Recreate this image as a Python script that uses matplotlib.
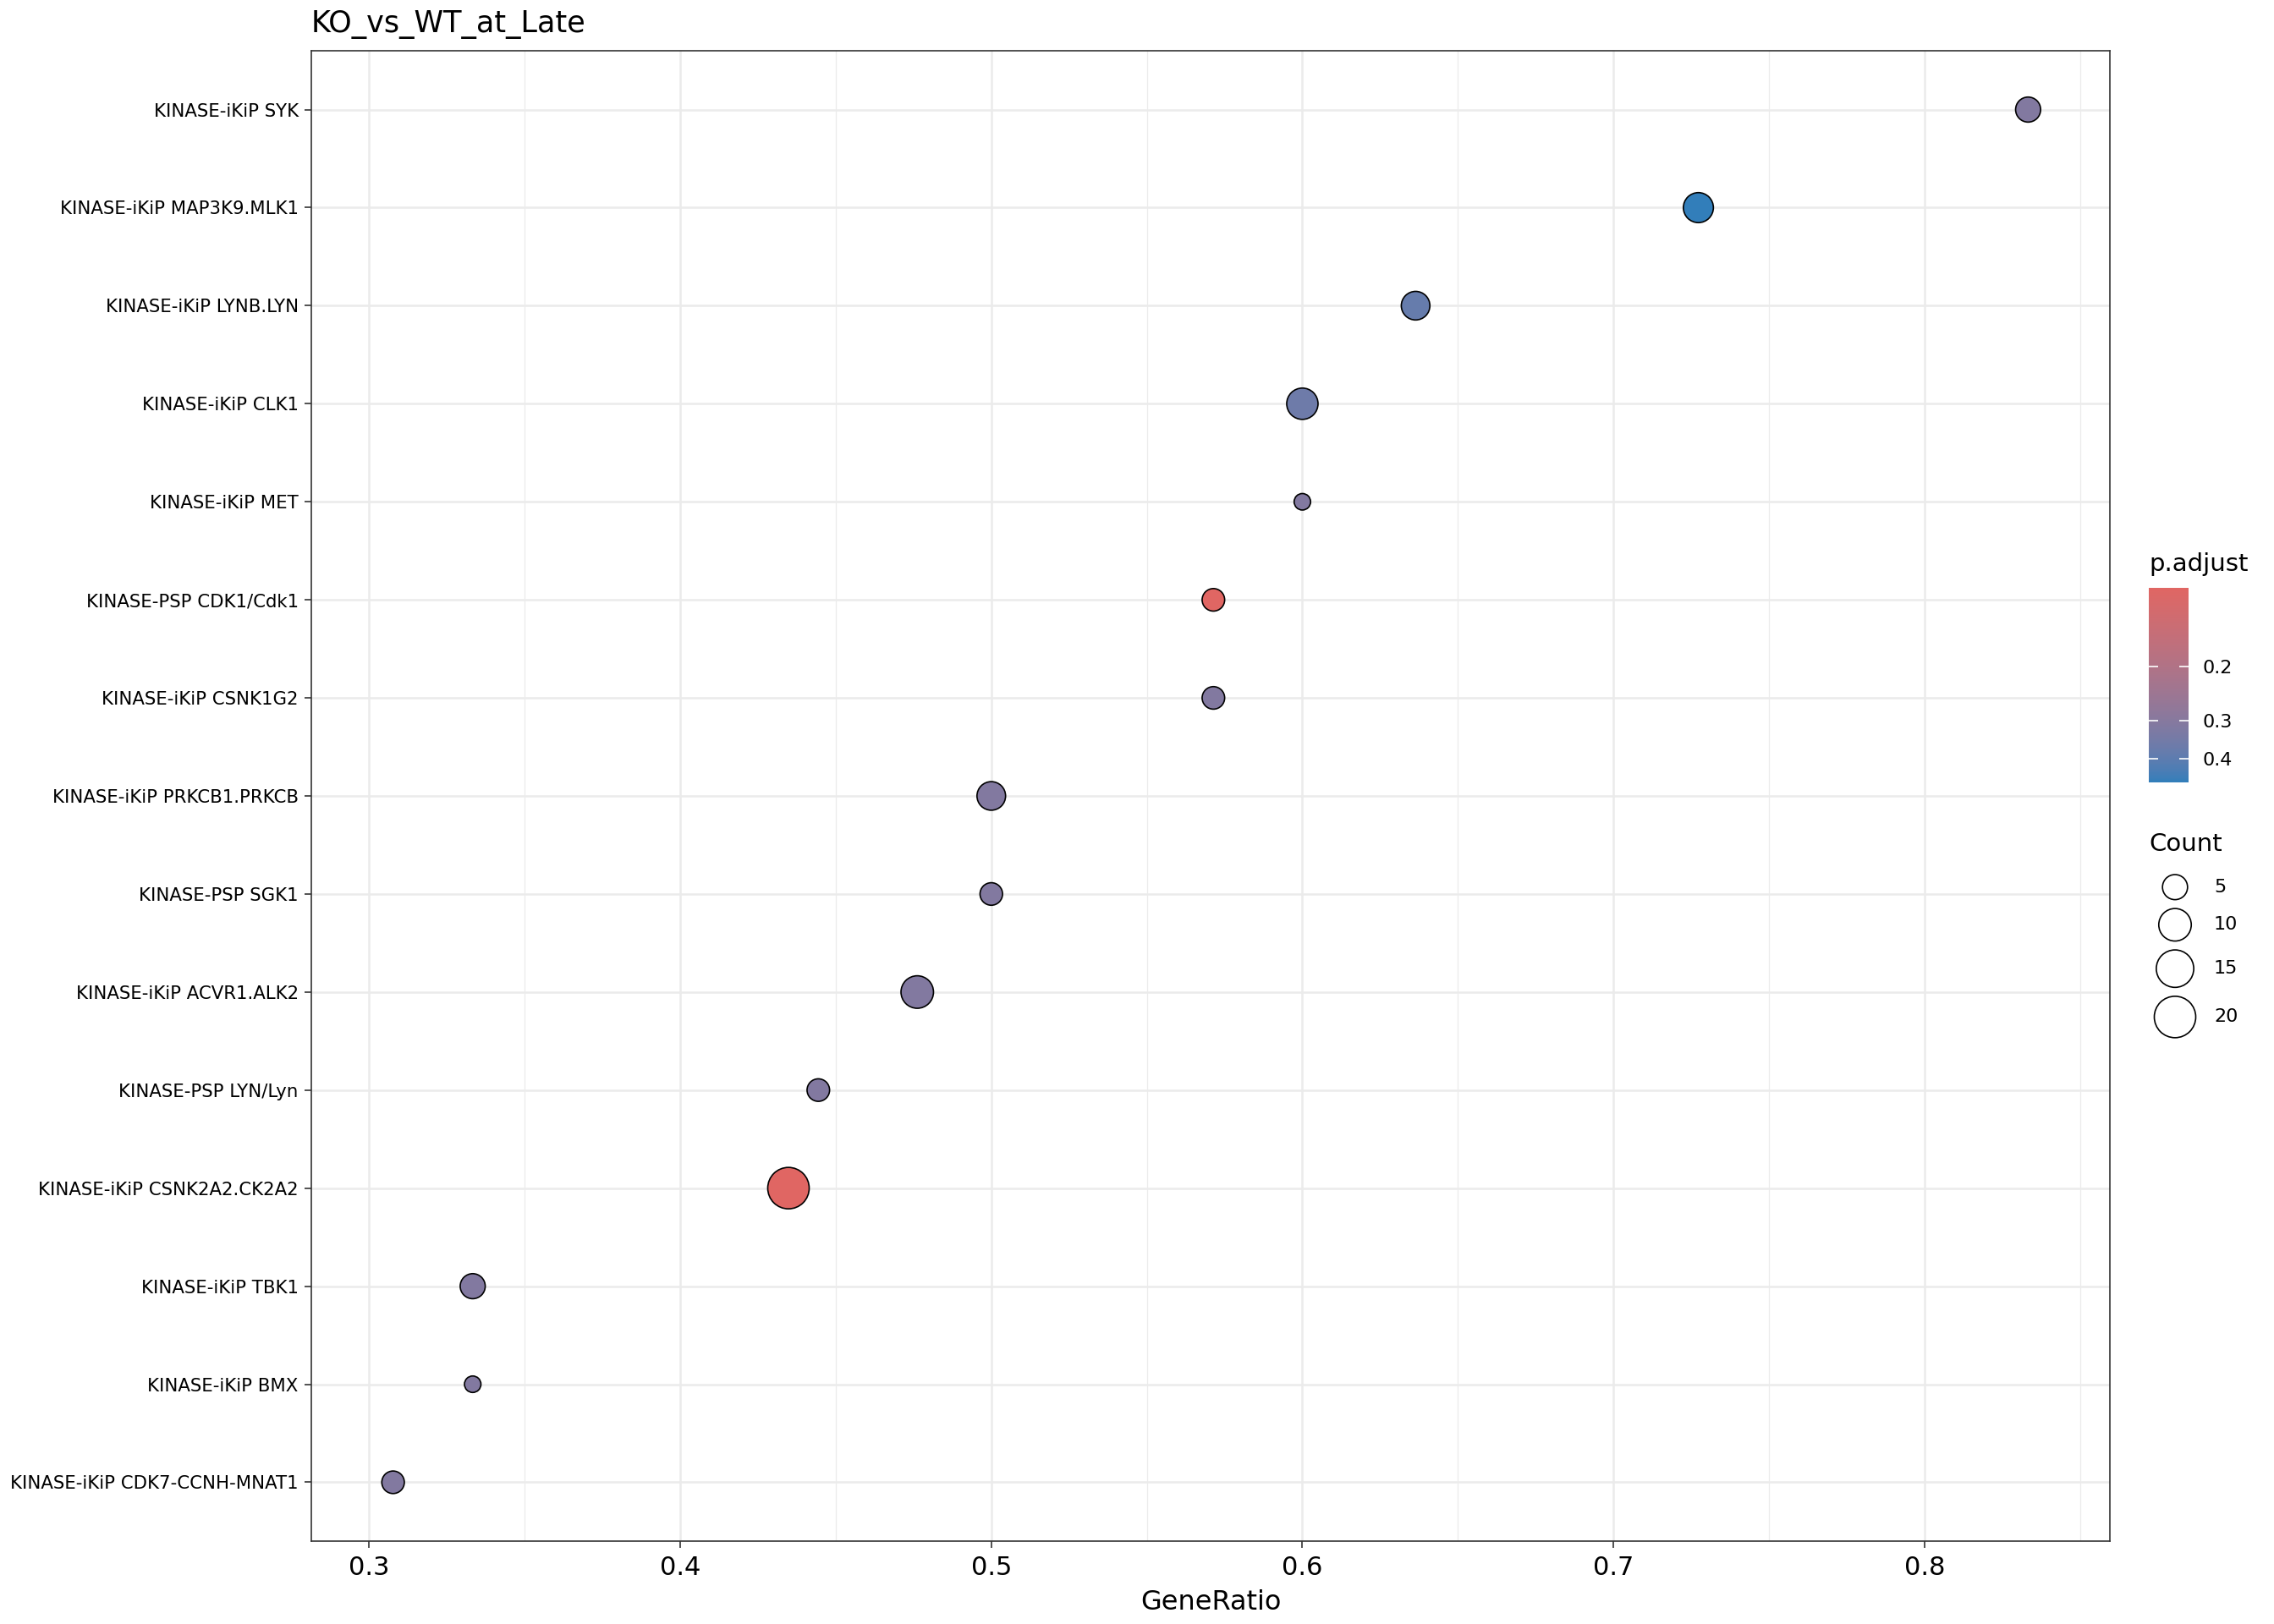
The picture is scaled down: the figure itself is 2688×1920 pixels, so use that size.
import numpy as np
import matplotlib
matplotlib.use("Agg")
import matplotlib.pyplot as plt
from matplotlib.colors import ListedColormap, LogNorm, to_rgb
from matplotlib.cm import ScalarMappable
from matplotlib.ticker import FixedLocator, NullLocator, MultipleLocator

# data, listed top to bottom as in the figure
terms = ["KINASE-iKiP SYK", "KINASE-iKiP MAP3K9.MLK1", "KINASE-iKiP LYNB.LYN",
         "KINASE-iKiP CLK1", "KINASE-iKiP MET", "KINASE-PSP CDK1/Cdk1",
         "KINASE-iKiP CSNK1G2", "KINASE-iKiP PRKCB1.PRKCB", "KINASE-PSP SGK1",
         "KINASE-iKiP ACVR1.ALK2", "KINASE-PSP LYN/Lyn", "KINASE-iKiP CSNK2A2.CK2A2",
         "KINASE-iKiP TBK1", "KINASE-iKiP BMX", "KINASE-iKiP CDK7-CCNH-MNAT1"]
gene_ratio = [0.8333, 0.7273, 0.6364, 0.6, 0.6, 0.5714, 0.5714, 0.5, 0.5,
              0.4762, 0.4444, 0.4348, 0.3333, 0.3333, 0.3077]
counts = [5, 8, 7, 9, 3, 4, 4, 7, 4, 10, 4, 20, 5, 3, 4]
p_adjust = [0.31, 0.479, 0.38, 0.36, 0.31, 0.110, 0.31, 0.31, 0.31,
            0.31, 0.31, 0.110, 0.31, 0.31, 0.31]
count_breaks = [5, 10, 15, 20]
p_breaks = [0.2, 0.3, 0.4]

DPI = 200
LOW_COL, HIGH_COL = "#e06663", "#327eba"


# ggplot-like gradient: interpolate in Lab space
def to_lab(c):
    rgb = np.array(to_rgb(c))
    lin = np.where(rgb <= 0.04045, rgb / 12.92, ((rgb + 0.055) / 1.055) ** 2.4)
    M = np.array([[0.4124, 0.3576, 0.1805], [0.2126, 0.7152, 0.0722], [0.0193, 0.1192, 0.9505]])
    xyz = M @ lin / np.array([0.95047, 1.0, 1.08883])
    f = np.where(xyz > 0.008856, np.cbrt(xyz), 7.787 * xyz + 16 / 116)
    return np.array([116 * f[1] - 16, 500 * (f[0] - f[1]), 200 * (f[1] - f[2])])


def from_lab(lab):
    fy = (lab[0] + 16) / 116
    fx = fy + lab[1] / 500
    fz = fy - lab[2] / 200
    f = np.array([fx, fy, fz])
    xyz = np.where(f ** 3 > 0.008856, f ** 3, (f - 16 / 116) / 7.787) * np.array([0.95047, 1.0, 1.08883])
    Minv = np.linalg.inv(np.array([[0.4124, 0.3576, 0.1805], [0.2126, 0.7152, 0.0722], [0.0193, 0.1192, 0.9505]]))
    lin = np.clip(Minv @ xyz, 0, 1)
    rgb = np.where(lin <= 0.0031308, 12.92 * lin, 1.055 * lin ** (1 / 2.4) - 0.055)
    return np.clip(rgb, 0, 1)


lab_a, lab_b = to_lab(LOW_COL), to_lab(HIGH_COL)
cmap = ListedColormap([from_lab(lab_a + (lab_b - lab_a) * t) for t in np.linspace(0, 1, 256)])
norm = LogNorm(vmin=min(p_adjust), vmax=max(p_adjust))

# size scale like scale_size (area): diameter in pixels
D_MIN, D_MAX = 19.5, 49.0
cmin, cmax = min(counts), max(counts)


def diam_px(c):
    c = np.asarray(c, dtype=float)
    return D_MIN + (D_MAX - D_MIN) * np.sqrt((c - cmin) / (cmax - cmin))


def marker_s(c):
    return (diam_px(c) * 72 / DPI) ** 2


plt.rcParams['font.family'] = ['DejaVu Sans']
fig = plt.figure(figsize=(2688 / DPI, 1920 / DPI), dpi=DPI)
ax = fig.add_axes([368 / 2688, 1 - 1822 / 1920, (2494 - 368) / 2688, (1822 - 60) / 1920])

n = len(terms)
ypos = np.arange(n, 0, -1)
ax.scatter(gene_ratio, ypos, s=marker_s(counts), c=p_adjust, cmap=cmap, norm=norm,
           edgecolors="black", linewidths=0.6, zorder=3)

xr = max(gene_ratio) - min(gene_ratio)
ax.set_xlim(min(gene_ratio) - 0.05 * xr, max(gene_ratio) + 0.05 * xr)
ax.set_ylim(0.4, n + 0.6)
ax.set_yticks(ypos)
ax.set_yticklabels(terms, fontsize=7.65)
ax.xaxis.set_major_locator(MultipleLocator(0.1))
ax.xaxis.set_minor_locator(MultipleLocator(0.05))
ax.set_xticklabels([f"{t:.1f}" for t in ax.get_xticks()])
ax.tick_params(axis='x', labelsize=11, pad=3)
ax.tick_params(which='major', length=3, width=0.6, color="#333333")
ax.tick_params(axis='y', pad=2.5)
ax.tick_params(which='minor', length=0)
ax.grid(which='major', color="#EBEBEB", linewidth=0.9, zorder=0)
ax.grid(which='minor', axis='x', color="#EBEBEB", linewidth=0.45, zorder=0)
ax.set_axisbelow(True)
for sp in ax.spines.values():
    sp.set_color("#333333")
    sp.set_linewidth(0.6)
ax.set_xlabel("GeneRatio", fontsize=11.5, labelpad=4)
fig.text(368 / 2688, 1 - 29 / 1920, "KO_vs_WT_at_Late", fontsize=12.6, ha='left', va='center')

# colour legend
fig.text(2540 / 2688, 1 - 667 / 1920, "p.adjust", fontsize=10.5, ha='left', va='center')
cax = fig.add_axes([2540 / 2688, 1 - 925 / 1920, 47 / 2688, 230 / 1920])
cb = fig.colorbar(ScalarMappable(norm=norm, cmap=cmap), cax=cax)
cb.outline.set_visible(False)
cax.invert_yaxis()
cax.yaxis.set_major_locator(FixedLocator(p_breaks))
cax.yaxis.set_minor_locator(NullLocator())
cax.set_yticklabels([str(b) for b in p_breaks])
cax.tick_params(axis='y', direction='in', left=True, right=True, color="white",
                length=4, width=0.6, labelsize=8, pad=6)

# size legend
fig.text(2540 / 2688, 1 - 998 / 1920, "Count", fontsize=10.5, ha='left', va='center')
lax = fig.add_axes([0, 0, 1, 1], facecolor='none')
lax.set_xlim(0, 2688)
lax.set_ylim(1920, 0)
lax.axis('off')
dl = diam_px(count_breaks)
gap = 10.5
centers = 1034 + np.concatenate([[0], np.cumsum((dl[:-1] + dl[1:]) / 2 + gap)]) + dl[0] / 2
lax.scatter([2571] * len(count_breaks), centers, s=marker_s(count_breaks),
            facecolors='white', edgecolors='black', linewidths=0.6)
for b, yc in zip(count_breaks, centers):
    lax.text(2617, yc, str(b), fontsize=8, ha='left', va='center')

fig.savefig("out.png", dpi=DPI)
